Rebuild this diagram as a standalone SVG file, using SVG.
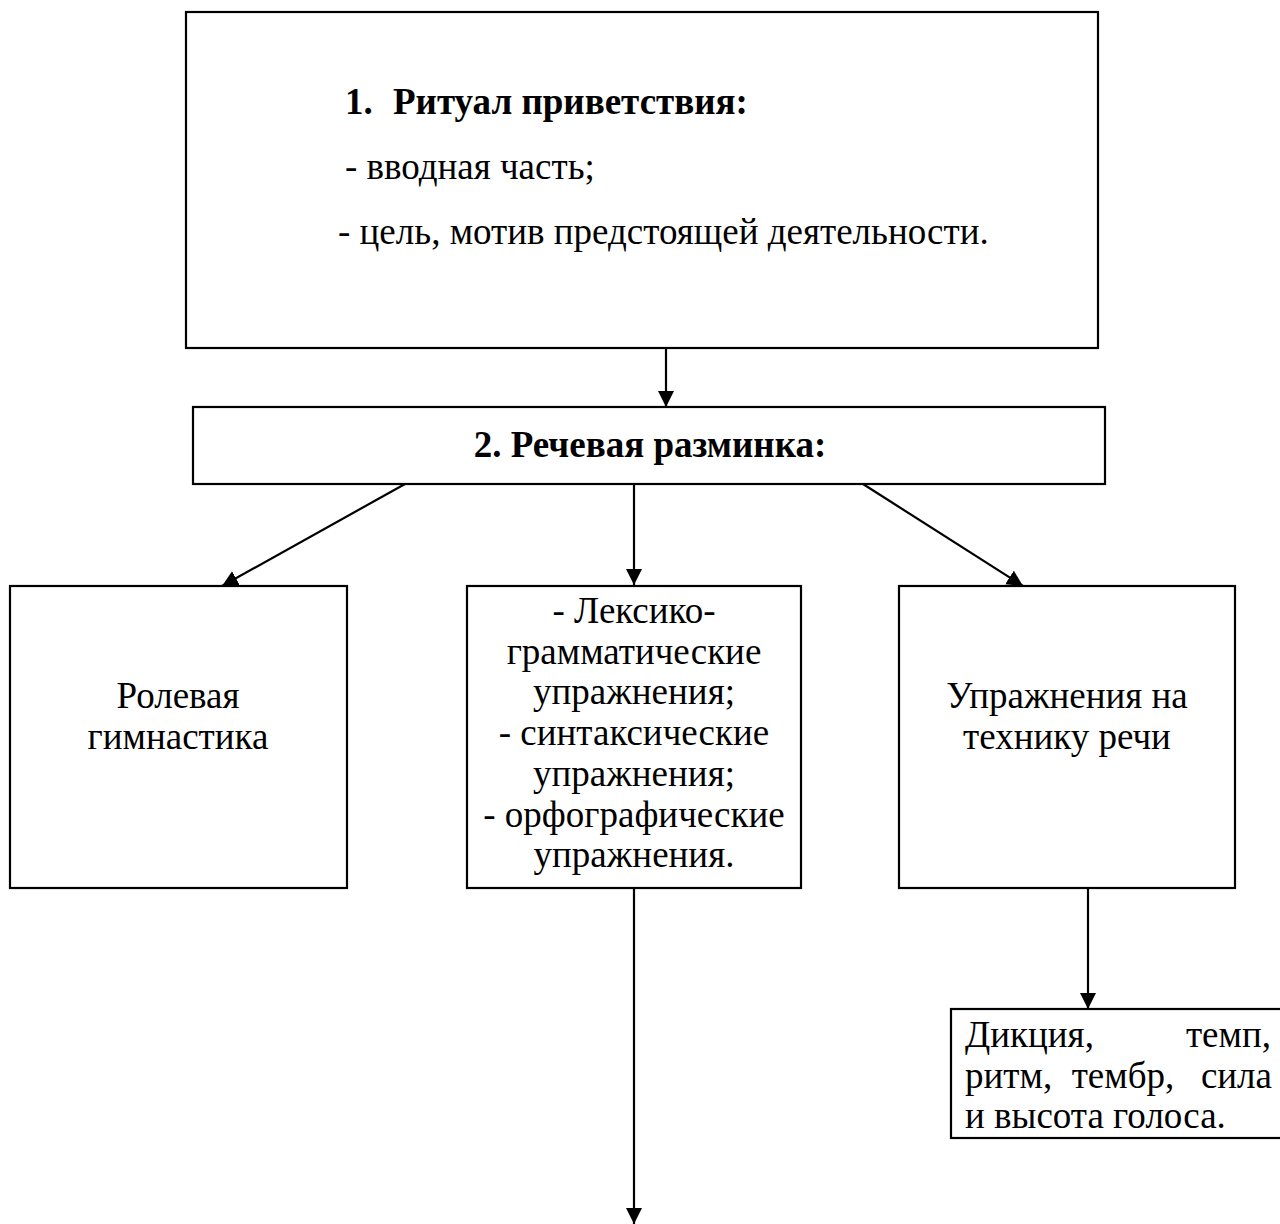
<svg xmlns="http://www.w3.org/2000/svg" width="1280" height="1224" viewBox="0 0 1280 1224">
<style>
.box{fill:#fff;stroke:#000;stroke-width:2.2}
.t{font-family:"Liberation Serif","Times New Roman",serif;font-size:37px;fill:#000}
.b{font-weight:bold}
.c{text-anchor:middle}
.ln{stroke:#000;stroke-width:2.2;fill:none}
</style>
<defs>
<marker id="ah" viewBox="0 0 16 17" refX="16" refY="8" markerWidth="16" markerHeight="17" markerUnits="userSpaceOnUse" orient="auto">
<path d="M0,0 L16,8 L0,16 z" fill="#000"/>
</marker>
</defs>
<rect width="1280" height="1224" fill="#fff"/>
<g id="connectors">
<line class="ln" x1="666" y1="348" x2="666" y2="407" marker-end="url(#ah)"/>
<line class="ln" x1="405" y1="484" x2="222" y2="586" marker-end="url(#ah)"/>
<line class="ln" x1="634" y1="484" x2="634" y2="585" marker-end="url(#ah)"/>
<line class="ln" x1="863" y1="484" x2="1023" y2="586" marker-end="url(#ah)"/>
<line class="ln" x1="1088" y1="888" x2="1088" y2="1009" marker-end="url(#ah)"/>
<line class="ln" x1="634" y1="888" x2="634" y2="1224" marker-end="url(#ah)"/>
</g>
<g id="n1">
<rect class="box" x="186" y="12" width="912" height="336"/>
<text class="t b" x="345" y="114">1.</text>
<text class="t b" x="393" y="114">Ритуал приветствия:</text>
<text class="t" x="345" y="179">- вводная часть;</text>
<text class="t" x="338" y="244">- цель, мотив предстоящей деятельности.</text>
</g>
<g id="n2">
<rect class="box" x="193" y="407" width="912" height="77"/>
<text class="t b c" x="650" y="457">2. Речевая разминка:</text>
</g>
<g id="n3">
<rect class="box" x="10" y="586" width="337" height="302"/>
<text class="t c" x="178" y="708">Ролевая</text>
<text class="t c" x="178" y="749">гимнастика</text>
</g>
<g id="n4">
<rect class="box" x="467" y="586" width="334" height="302"/>
<text class="t c" x="634" y="623">- Лексико-</text>
<text class="t c" x="634" y="664">грамматические</text>
<text class="t c" x="634" y="704">упражнения;</text>
<text class="t c" x="634" y="745">- синтаксические</text>
<text class="t c" x="634" y="786">упражнения;</text>
<text class="t c" x="634" y="827">- орфографические</text>
<text class="t c" x="634" y="867">упражнения.</text>
</g>
<g id="n5">
<rect class="box" x="899" y="586" width="336" height="302"/>
<text class="t c" x="1067" y="708">Упражнения на</text>
<text class="t c" x="1067" y="749">технику речи</text>
</g>
<g id="n6">
<rect class="box" x="951" y="1009" width="340" height="129"/>
<text class="t" x="965" y="1047">Дикция,</text>
<text class="t" x="1271" y="1047" text-anchor="end">темп,</text>
<text class="t" x="965" y="1088">ритм,</text>
<text class="t" x="1123" y="1088" text-anchor="middle">тембр,</text>
<text class="t" x="1272" y="1088" text-anchor="end">сила</text>
<text class="t" x="965" y="1128">и высота голоса.</text>
</g>
</svg>
